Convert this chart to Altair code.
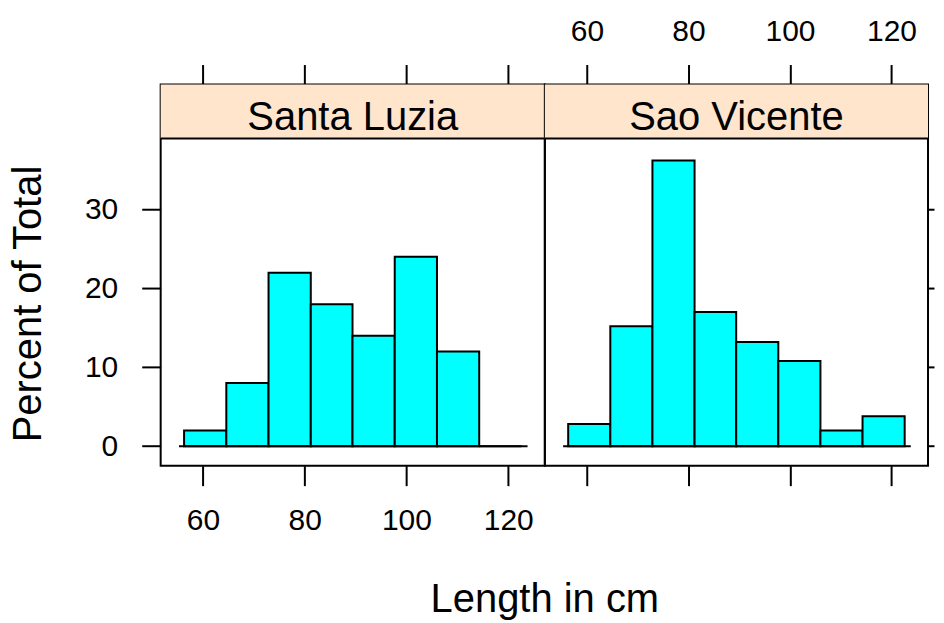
import altair as alt
import pandas as pd

# ---- data ----
panels = ["Santa Luzia", "Sao Vicente"]
bin_edges = [56.3, 64.6, 72.9, 81.2, 89.4, 97.7, 106.0, 114.3, 122.6]
santa_luzia_pct = [2, 8, 22, 18, 14, 24, 12, 0]
sao_vicente_pct = [2.8, 15.2, 36.2, 17.0, 13.2, 10.8, 2.0, 3.8]
x_ticks = [60, 80, 100, 120]
y_ticks = [0, 10, 20, 30]
baseline_span = [55.3, 123.8]

FONT = "Liberation Sans"
W_L, W_R, H = 385, 384, 382
STRIP_H = 54
x_dom = [51.7, 127.2]
y_dom = [-2.47, 45.85]
CYAN = "#00FFFF"
STRIP = "#FFE5CC"


def panel(name, pct, W, left):
    df = pd.DataFrame({"lo": bin_edges[:-1], "hi": bin_edges[1:], "pct": pct, "zero": [0] * len(pct)})
    base_df = pd.DataFrame({"x0": [baseline_span[0]], "x1": [baseline_span[1]], "y": [0]})
    lab_df = pd.DataFrame({"label": [name]})
    xs = alt.Scale(domain=x_dom, nice=False, zero=False)
    ys = alt.Scale(domain=y_dom, nice=False, zero=False)

    if left:
        bottom_axis = alt.Axis(orient="bottom", values=x_ticks, labels=True, tickSize=20,
                               labelPadding=20, title="Length in cm", titleX=384.5, titleY=146,
                               titleAlign="center", titleBaseline="alphabetic")
        top_axis = alt.Axis(orient="top", values=x_ticks, labels=False, tickSize=20, title=None)
        y_axis = alt.Axis(orient="left", values=y_ticks, labels=True, tickSize=19, labelPadding=24,
                          title="Percent of Total", titleAngle=270, titleX=-132, titleY=219.5,
                          titleAlign="center", titleBaseline="middle")
    else:
        bottom_axis = alt.Axis(orient="bottom", values=x_ticks, labels=False, tickSize=20, title=None)
        top_axis = alt.Axis(orient="top", values=x_ticks, labels=True, tickSize=20,
                            labelPadding=18, title=None)
        y_axis = alt.Axis(orient="right", values=y_ticks, labels=False, tickSize=6, title=None)

    strip = alt.Chart(lab_df).mark_rect(fill=STRIP, strokeWidth=0).encode(
        x=alt.value(0), x2=alt.value(W), y=alt.value(0), y2=alt.value(STRIP_H))
    bars = alt.Chart(df).mark_rect(fill=CYAN, stroke="black", strokeWidth=2).encode(
        x=alt.X("lo:Q", scale=xs, axis=bottom_axis),
        x2="hi:Q",
        y=alt.Y("pct:Q", scale=ys, axis=y_axis),
        y2="zero:Q",
    )
    base = alt.Chart(base_df).mark_rule(color="black", strokeWidth=2).encode(
        x=alt.X("x0:Q", scale=xs, axis=top_axis),
        x2="x1:Q",
        y=alt.Y("y:Q", scale=ys, axis=None),
    )
    sep = alt.Chart(lab_df).mark_rule(color="black", strokeWidth=2).encode(
        x=alt.value(0), x2=alt.value(W), y=alt.value(STRIP_H))
    txt = alt.Chart(lab_df).mark_text(font=FONT, fontSize=40, baseline="alphabetic",
                                      align="center", color="black").encode(
        x=alt.value(W / 2), y=alt.value(46), text="label:N")
    return alt.layer(strip, bars, base, sep, txt).resolve_axis(
        x="independent", y="independent").properties(width=W, height=H)


left = panel(panels[0], santa_luzia_pct, W_L, True)
right = panel(panels[1], sao_vicente_pct, W_R, False)

chart = alt.hconcat(left, right, spacing=0, bounds="flush").properties(
    padding={"left": 0, "top": 7, "right": 0, "bottom": 0}, background="white",
).configure_view(stroke="black", strokeWidth=2).configure_axis(
    domain=False, grid=False, tickColor="black", tickWidth=2,
    labelColor="black", labelFont=FONT, labelFontSize=30,
    titleColor="black", titleFont=FONT, titleFontSize=40, titleFontWeight="normal",
)

chart.save("out.html", embed_options={"renderer": "svg", "actions": False})
